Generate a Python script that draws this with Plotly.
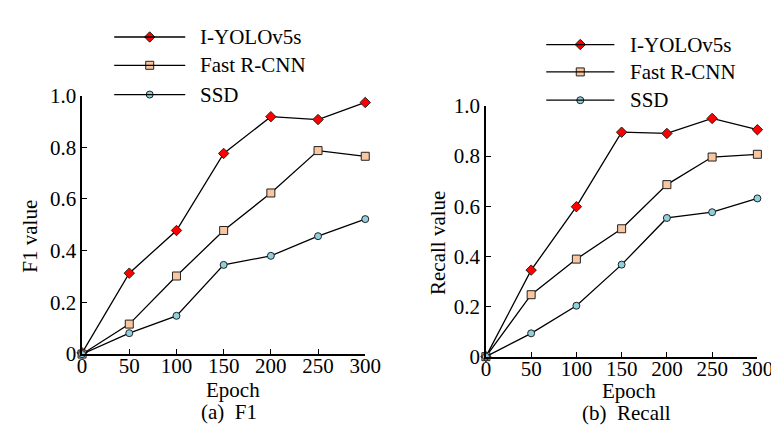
import plotly.graph_objects as go

W, H = 779, 427

epochs = [0, 50, 100, 150, 200, 250, 300]
series_names = ["I-YOLOv5s", "Fast R-CNN", "SSD"]

f1_yolo = [0.005, 0.313, 0.478, 0.776, 0.918, 0.907, 0.973]
f1_frcnn = [0.0, 0.116, 0.302, 0.478, 0.623, 0.787, 0.765]
f1_ssd = [0.0, 0.081, 0.148, 0.345, 0.380, 0.456, 0.522]

rec_yolo = [0.0, 0.345, 0.598, 0.895, 0.890, 0.950, 0.905]
rec_frcnn = [0.0, 0.247, 0.389, 0.510, 0.686, 0.796, 0.807]
rec_ssd = [0.0, 0.093, 0.203, 0.367, 0.553, 0.576, 0.631]

x_ticks = [0, 50, 100, 150, 200, 250, 300]
y_ticks = [0, 0.2, 0.4, 0.6, 0.8, 1.0]
y_ticklabels = ["0", "0.2", "0.4", "0.6", "0.8", "1.0"]

FONT = "'Times New Roman', 'Liberation Serif', serif"
FS = 21
styles = [
    dict(symbol="diamond", size=8, color="#FF0000"),
    dict(symbol="square", size=8, color="#F9C6A0"),
    dict(symbol="circle", size=7, color="#8FD0DD"),
]

fig = go.Figure()

panels = [
    ("x", "y", [f1_yolo, f1_frcnn, f1_ssd]),
    ("x2", "y2", [rec_yolo, rec_frcnn, rec_ssd]),
]
for xa, ya, data in panels:
    for name, vals, st in zip(series_names, data, styles):
        fig.add_trace(go.Scatter(
            x=epochs, y=vals, name=name, xaxis=xa, yaxis=ya,
            mode="lines+markers", cliponaxis=False, showlegend=False,
            line=dict(color="black", width=1.3),
            marker=dict(symbol=st["symbol"], size=st["size"], color=st["color"],
                        line=dict(color="#222222", width=1)),
        ))

legend_rows = {
    "left": dict(x0=104, x1=177, tx=190, ys=[18, 48, 79]),
    "right": dict(x0=548, x1=618, tx=632, ys=[26, 55, 85]),
}
for key, lg in legend_rows.items():
    for name, st, yy in zip(series_names, styles, lg["ys"]):
        fig.add_shape(type="line", xref="x3", yref="y3", x0=lg["x0"], x1=lg["x1"],
                      y0=yy, y1=yy, line=dict(color="black", width=1.3))
        fig.add_trace(go.Scatter(
            x=[(lg["x0"] + lg["x1"]) / 2], y=[yy], xaxis="x3", yaxis="y3",
            mode="markers", showlegend=False, hoverinfo="skip", cliponaxis=False,
            marker=dict(symbol=st["symbol"], size=st["size"], color=st["color"],
                        line=dict(color="#222222", width=1)),
        ))
        fig.add_annotation(x=lg["tx"], y=yy, xref="x3", yref="y3", text=name,
                           showarrow=False, xanchor="left", yanchor="middle",
                           font=dict(family=FONT, size=FS, color="black"))

labels = [
    (226, 392, "Epoch", 0), (222, 415, "(a)\u00a0 F1", 0),
    (633, 393, "Epoch", 0), (631, 416, "(b)\u00a0 Recall", 0),
    (18, 229, "F1 value", -90), (437, 236, "Recall value", -90),
]
for lx, ly, txt, ang in labels:
    fig.add_annotation(x=lx, y=ly, xref="x3", yref="y3", text=txt, showarrow=False,
                       xanchor="center", yanchor="middle", textangle=ang,
                       font=dict(family=FONT, size=FS, color="black"))

common_x = dict(range=[0, 300], tickvals=x_ticks, ticks="inside", ticklen=5,
                tickcolor="black", showline=True, linecolor="black", linewidth=1.5,
                showgrid=False, zeroline=False, ticklabelstandoff=-8,
                tickfont=dict(family=FONT, size=FS, color="black"))
common_y = dict(range=[0, 1.0], tickvals=y_ticks, ticktext=y_ticklabels, ticks="inside",
                ticklen=5, tickcolor="black", showline=True, linecolor="black",
                linewidth=1.5, showgrid=False, zeroline=False,
                tickfont=dict(family=FONT, size=FS, color="black"))

fig.update_layout(
    width=W, height=H, margin=dict(l=0, r=0, t=0, b=0),
    paper_bgcolor="white", plot_bgcolor="rgba(0,0,0,0)",
    xaxis=dict(domain=[71 / W, 362 / W], anchor="y", **common_x),
    yaxis=dict(domain=[1 - 354 / H, 1 - 80 / H], anchor="x", **common_y),
    xaxis2=dict(domain=[486 / W, 765 / W], anchor="y2", **common_x),
    yaxis2=dict(domain=[1 - 356.7 / H, 1 - 91 / H], anchor="x2", **common_y),
    xaxis3=dict(domain=[0, 1], range=[0, W], visible=False, anchor="y3", fixedrange=True),
    yaxis3=dict(domain=[0, 1], range=[H, 0], visible=False, anchor="x3", fixedrange=True),
    font=dict(family=FONT, color="black"),
)

fig.write_html("out.html")
